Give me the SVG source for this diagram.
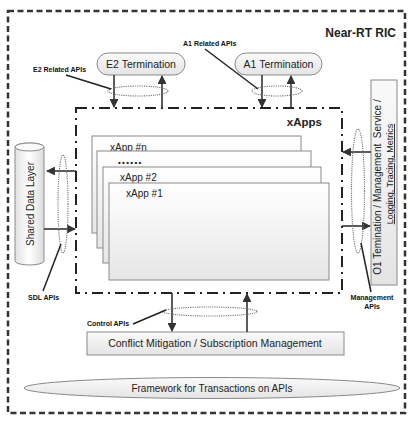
<svg xmlns="http://www.w3.org/2000/svg" width="413" height="423" viewBox="0 0 413 423">
<style>
text{font-family:"Liberation Sans",Arial,sans-serif;fill:#222}
.lbl{font-size:7px;font-weight:bold;fill:#111}
.nt{font-size:10.5px;text-anchor:middle}
.box{stroke:#8a8a8a;stroke-width:1}
.ar{stroke:#333;stroke-width:1.6;fill:none}
.ld{stroke:#222;stroke-width:1.5;fill:none}
.dot{stroke:#777;stroke-width:1.1;stroke-dasharray:1.2 1;fill:none}
.card{fill:url(#gC);stroke:#8a8a8a;stroke-width:1}
.ct{font-size:10px}
</style>
<defs>
<linearGradient id="gC" x1="0" y1="0" x2="0" y2="1"><stop offset="0" stop-color="#ffffff"/><stop offset="1" stop-color="#e6e6e6"/></linearGradient>
<linearGradient id="gB" x1="0" y1="0" x2="0" y2="1"><stop offset="0" stop-color="#fafafa"/><stop offset="1" stop-color="#e4e4e4"/></linearGradient>
<linearGradient id="gCyl" x1="0" y1="0" x2="1" y2="0"><stop offset="0" stop-color="#e2e2e2"/><stop offset="0.5" stop-color="#ffffff"/><stop offset="1" stop-color="#dcdcdc"/></linearGradient>
<marker id="ah" viewBox="0 0 10 10" refX="9" refY="5" markerWidth="5.5" markerHeight="5.5" orient="auto" markerUnits="strokeWidth"><path d="M0,0 L10,5 L0,10 z" fill="#333"/></marker>
</defs>
<g id="outer">
<rect x="8" y="11" width="397" height="402" fill="none" stroke="#333" stroke-width="2.5" stroke-dasharray="6 3.5"/>
<text x="396" y="37" font-size="12" font-weight="bold" text-anchor="end" fill="#111">Near-RT RIC</text>
</g>
<g id="xapps">
<rect x="76" y="108" width="266" height="185" fill="none" stroke="#222" stroke-width="2" stroke-dasharray="11 5 2 5"/>
<text x="322" y="126" font-size="11.5" font-weight="bold" text-anchor="end" fill="#111">xApps</text>
</g>
<g id="xapp-n"><rect class="card" x="92" y="136" width="209" height="97"/><text class="ct" x="110" y="150.5">xApp #n</text></g>
<g id="xapp-dots"><rect class="card" x="97" y="151" width="214" height="97"/><text x="118" y="165" font-size="8" letter-spacing="1.3" font-weight="bold">••••••</text></g>
<g id="xapp-2"><rect class="card" x="103" y="167" width="218" height="96"/><text class="ct" x="120" y="180.5">xApp #2</text></g>
<g id="xapp-1"><rect class="card" x="109" y="183" width="220" height="97"/><text class="ct" x="126" y="196.5">xApp #1</text></g>
<g id="e2-termination"><rect class="box" x="97" y="53" width="88" height="22" rx="11" fill="url(#gB)"/><text class="nt" x="141" y="68">E2 Termination</text></g>
<g id="a1-termination"><rect class="box" x="235" y="53" width="87" height="22" rx="11" fill="url(#gB)"/><text class="nt" x="278.5" y="68">A1 Termination</text></g>
<g id="sdl">
<path d="M15,147 V261 A14.5,4 0 0 0 44,261 V147 A14.5,4 0 0 0 15,147 z" fill="url(#gCyl)" stroke="#8a8a8a"/>
<ellipse cx="29.5" cy="147" rx="14.5" ry="4" fill="#fafafa" stroke="#8a8a8a"/>
<text transform="translate(34,204) rotate(-90)" font-size="10" text-anchor="middle">Shared Data Layer</text>
</g>
<g id="o1">
<rect class="box" x="371" y="80" width="26" height="205" fill="url(#gB)"/>
<text transform="translate(381,187) rotate(-90)" font-size="10" text-anchor="middle" xml:space="preserve">O1 Temination / Management  Service /</text>
<text transform="translate(393,174) rotate(-90)" font-size="9" text-anchor="middle" text-decoration="underline">Logging, Tracing, Metrics</text>
</g>
<g id="conflict"><rect class="box" x="87" y="332" width="257" height="23" fill="url(#gB)"/><text class="nt" x="215" y="347">Conflict Mitigation / Subscription Management</text></g>
<g id="framework"><ellipse cx="212" cy="388" rx="188" ry="10.5" fill="url(#gB)" stroke="#8a8a8a"/><text x="212" y="392" font-size="10" text-anchor="middle">Framework for Transactions on APIs</text></g>
<g id="connectors">
<line class="ar" x1="114" y1="75" x2="114" y2="107" marker-end="url(#ah)"/>
<line class="ar" x1="162" y1="108" x2="162" y2="76" marker-end="url(#ah)"/>
<line class="ar" x1="262" y1="75" x2="262" y2="107" marker-end="url(#ah)"/>
<line class="ar" x1="291" y1="108" x2="291" y2="76" marker-end="url(#ah)"/>
<line class="ar" x1="76" y1="171" x2="47" y2="171" marker-end="url(#ah)"/>
<line class="ar" x1="44" y1="229" x2="75" y2="229" marker-end="url(#ah)"/>
<line class="ar" x1="371" y1="152" x2="343" y2="152" marker-end="url(#ah)"/>
<line class="ar" x1="342" y1="226" x2="370" y2="226" marker-end="url(#ah)"/>
<line class="ar" x1="172" y1="293" x2="172" y2="331" marker-end="url(#ah)"/>
<line class="ar" x1="247" y1="332" x2="247" y2="294" marker-end="url(#ah)"/>
<ellipse class="dot" cx="138" cy="91" rx="30" ry="5"/>
<ellipse class="dot" cx="277" cy="91" rx="25" ry="5"/>
<ellipse class="dot" cx="63" cy="204" rx="5" ry="49"/>
<ellipse class="dot" cx="358" cy="191" rx="6.5" ry="62"/>
<ellipse class="dot" cx="210" cy="311.5" rx="47" ry="4.5"/>
<line class="ld" x1="66" y1="75" x2="111" y2="89"/>
<line class="ld" x1="205" y1="49" x2="258" y2="89"/>
<line class="ld" x1="43" y1="291" x2="61" y2="244"/>
<line class="ld" x1="361" y1="243" x2="371" y2="292"/>
<line class="ld" x1="133" y1="324" x2="166" y2="310"/>
<text class="lbl" x="33" y="72">E2 Related APIs</text>
<text class="lbl" x="183" y="46">A1 Related APIs</text>
<text class="lbl" x="28" y="300">SDL APIs</text>
<text class="lbl" x="372" y="300" text-anchor="middle">Management</text>
<text class="lbl" x="372" y="309" text-anchor="middle">APIs</text>
<text class="lbl" x="87" y="326">Control APIs</text>
</g>
</svg>
